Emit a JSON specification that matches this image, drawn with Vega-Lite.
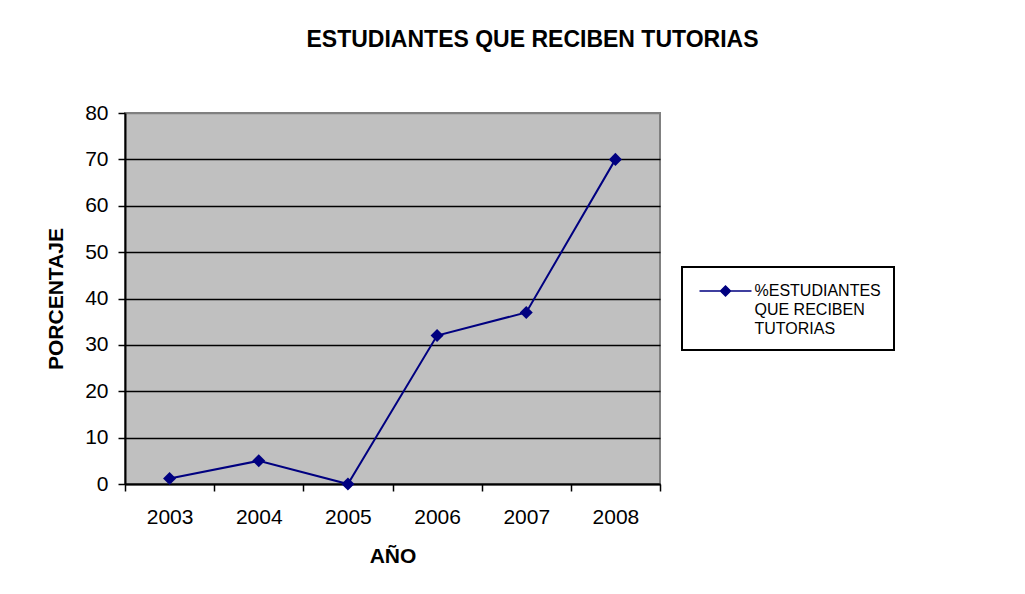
{
  "$schema": "https://vega.github.io/schema/vega-lite/v6.json",
  "width": 535,
  "height": 371,
  "autosize": {"type": "none"},
  "padding": {"left": 125, "top": 113, "right": 365, "bottom": 110},
  "background": "white",
  "title": {
    "text": "ESTUDIANTES QUE RECIBEN TUTORIAS",
    "font": "Liberation Sans",
    "fontSize": 23,
    "fontWeight": "bold",
    "color": "black",
    "anchor": "middle",
    "frame": "group",
    "dx": 140,
    "offset": 50
  },
  "data": {
    "values": [
      {"year": 2003, "pct": 1.2, "serie": "%ESTUDIANTES QUE RECIBEN TUTORIAS"},
      {"year": 2004, "pct": 5, "serie": "%ESTUDIANTES QUE RECIBEN TUTORIAS"},
      {"year": 2005, "pct": 0, "serie": "%ESTUDIANTES QUE RECIBEN TUTORIAS"},
      {"year": 2006, "pct": 32, "serie": "%ESTUDIANTES QUE RECIBEN TUTORIAS"},
      {"year": 2007, "pct": 37, "serie": "%ESTUDIANTES QUE RECIBEN TUTORIAS"},
      {"year": 2008, "pct": 70, "serie": "%ESTUDIANTES QUE RECIBEN TUTORIAS"}
    ]
  },
  "mark": {
    "type": "line",
    "strokeWidth": 2,
    "point": {"shape": "diamond", "size": 170, "filled": true, "color": "#000080", "opacity": 1}
  },
  "encoding": {
    "x": {
      "field": "year",
      "type": "quantitative",
      "scale": {"domain": [2002.5, 2008.5], "nice": false, "zero": false},
      "axis": {
        "title": "AÑO",
        "values": [2002.5, 2003.5, 2004.5, 2005.5, 2006.5, 2007.5, 2008.5],
        "labelExpr": "datum.value < 2008 ? toString(datum.value + 0.5) : ''",
        "labelOffset": 44.6,
        "labelFlush": false,
        "labelOverlap": false,
        "labelBound": false,
        "grid": false,
        "domainColor": "black",
        "domainWidth": 2,
        "tickColor": "black",
        "tickWidth": 1.5,
        "tickSize": 7,
        "labelFont": "Liberation Sans",
        "labelFontSize": 21,
        "labelColor": "black",
        "labelPadding": 15,
        "titleFont": "Liberation Sans",
        "titleFontSize": 21,
        "titleFontWeight": "bold",
        "titleColor": "black",
        "titlePadding": 18
      }
    },
    "y": {
      "field": "pct",
      "type": "quantitative",
      "scale": {"domain": [0, 80], "nice": false},
      "axis": {
        "title": "PORCENTAJE",
        "values": [0, 10, 20, 30, 40, 50, 60, 70, 80],
        "grid": true,
        "gridColor": {"condition": {"test": "datum.value === 80", "value": "#808080"}, "value": "black"},
        "gridWidth": 1.5,
        "domainColor": "black",
        "domainWidth": 2,
        "tickColor": "black",
        "tickWidth": 1.5,
        "tickSize": 7,
        "labelFont": "Liberation Sans",
        "labelFontSize": 21,
        "labelColor": "black",
        "labelPadding": 10,
        "titleFont": "Liberation Sans",
        "titleFontSize": 21,
        "titleFontWeight": "bold",
        "titleColor": "black",
        "titlePadding": 18
      }
    },
    "color": {
      "field": "serie",
      "type": "nominal",
      "scale": {"range": ["#000080"]},
      "legend": {
        "title": null,
        "orient": "none",
        "legendX": 557,
        "legendY": 154,
        "strokeColor": "black",
        "fillColor": "white",
        "padding": 13,
        "symbolType": "M-0.65,0L4.55,0M1.45,0L1.95,-0.5L2.45,0L1.95,0.5Z",
        "symbolSize": 400,
        "symbolStrokeWidth": 1.5,
        "symbolStrokeColor": "#000080",
        "symbolFillColor": "#000080",
        "symbolOpacity": 1,
        "labelOffset": 37.5,
        "labelFont": "Liberation Sans",
        "labelFontSize": 16,
        "labelColor": "black",
        "labelLimit": 300,
        "labelExpr": "['%ESTUDIANTES', 'QUE RECIBEN', 'TUTORIAS']"
      }
    }
  },
  "config": {
    "view": {"fill": "#c0c0c0", "stroke": "#808080", "strokeWidth": 2},
    "legend": {"strokeWidth": 2},
    "style": {"guide-label": {"lineHeight": 19}}
  }
}
